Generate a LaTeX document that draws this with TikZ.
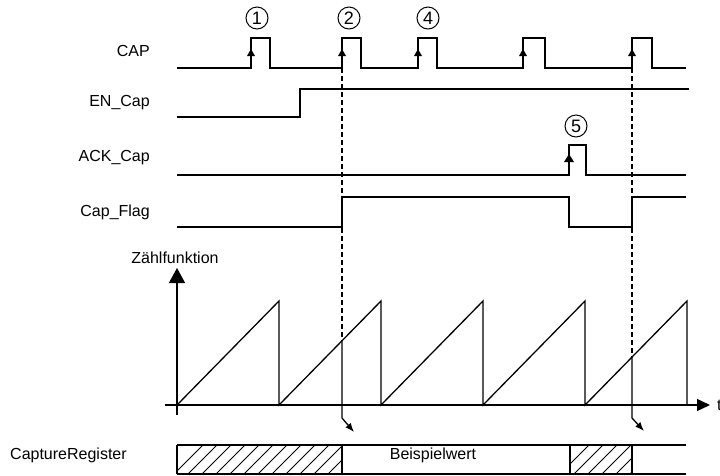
\documentclass[tikz,border=0pt]{standalone}
\usepackage{fontspec}
\setmainfont{Liberation Sans}
\usepackage{tikz}
\usetikzlibrary{arrows.meta,positioning,calc}

\tikzset{
  sig/.style={line width=1.3pt},
  capdash/.style={line width=1.1pt,dash pattern=on 5pt off 3pt},
  lbl/.style={inner sep=0pt,font=\fontsize{16}{19}\selectfont},
  numc/.style={circle,draw,line width=1pt,inner sep=0pt,minimum size=22pt,font=\fontsize{18}{20}\selectfont},
  hatch/.style={line width=1pt}
}

\begin{document}
\begin{tikzpicture}[x=1pt,y=-1pt]
\useasboundingbox (0,0) rectangle (720,475);
% signal names
\node[lbl,anchor=east] (lCAP) at (150,51) {CAP};
\node[lbl,anchor=east] (lEN) at (150,103) {EN\_Cap};
\node[lbl,anchor=east] (lACK) at (150,158) {ACK\_Cap};
\node[lbl,anchor=east] (lFLAG) at (150,212) {Cap\_Flag};
\node[lbl] (lZF) at (175,258) {Zählfunktion};
\node[lbl,anchor=west] (lCR) at (10,455) {CaptureRegister};
% CAP
\draw[sig] (177,68) \foreach \r/\f in {251/270,342/361,418/437,523/545,632/652}{ -- (\r,68) -- (\r,38) -- (\f,38) -- (\f,68)} -- (686,68);
\foreach \r in {251,342,418,523,632}{\fill (\r,56) -- ++(-4,0) -- ++(4,-7) -- ++(4,7) -- cycle;}
\node[numc] (nOne) at (257,18) {1};
\node[numc] (nTwo) at (349,18) {2};
\node[numc] (nFour) at (428,18) {4};
% EN_Cap
\draw[sig] (177,117) -- (300,117) -- (300,89) -- (689,89);
% ACK_Cap
\draw[sig] (177,175) -- (569,175) -- (569,145) -- (586,145) -- (586,175) -- (686,175);
\fill (569,162) -- ++(-5,0) -- ++(5,-8) -- ++(5,8) -- cycle;
\node[numc] (nFive) at (576,126) {5};
% Cap_Flag
\draw[sig] (177,227) -- (342,227) -- (342,197) -- (569,197) -- (569,227) -- (632,227) -- (632,197) -- (686,197);
% Zaehlfunktion
\draw[sig,-{Triangle[length=15pt,width=16pt]}] (177,415) -- (177,268);
\draw[sig,-{Triangle[length=13pt,width=12pt]}] (165,405) -- (710,405);
\node[lbl,anchor=west] (tAx) at (717,405) {t};
\draw[sig] (177,405) \foreach \i in {0,...,4}{ -- ({279+102*\i},301) -- ({279+102*\i},405)};
% capture lines
\coordinate (cpA) at (342,341);
\coordinate (cpB) at (632,357);
\draw[capdash] (342,68) -- (cpA);
\draw[capdash] (632,68) -- (cpB);
\draw[sig,-{Latex[length=9pt,width=7pt]}] (cpA) -- (342,418) -- (354,432);
\draw[sig,-{Latex[length=9pt,width=7pt]}] (cpB) -- (632,418) -- (644,431);
% CaptureRegister
\begin{scope}
\clip (177,445) rectangle (342,474);
\foreach \i in {0,...,14}{\draw[hatch] ({170+14*\i},478) -- ++(36,-36);}
\end{scope}
\begin{scope}
\clip (570,445) rectangle (632,474);
\foreach \i in {0,...,6}{\draw[hatch] ({556+14*\i},478) -- ++(36,-36);}
\end{scope}
\draw[sig] (177,445) -- (686,445);
\draw[sig] (177,474) -- (686,474);
\foreach \x in {177,342,570,632}{\draw[sig] (\x,445) -- (\x,474);}
\node[lbl] (wert) at (433,455) {Beispielwert};
\end{tikzpicture}
\end{document}
